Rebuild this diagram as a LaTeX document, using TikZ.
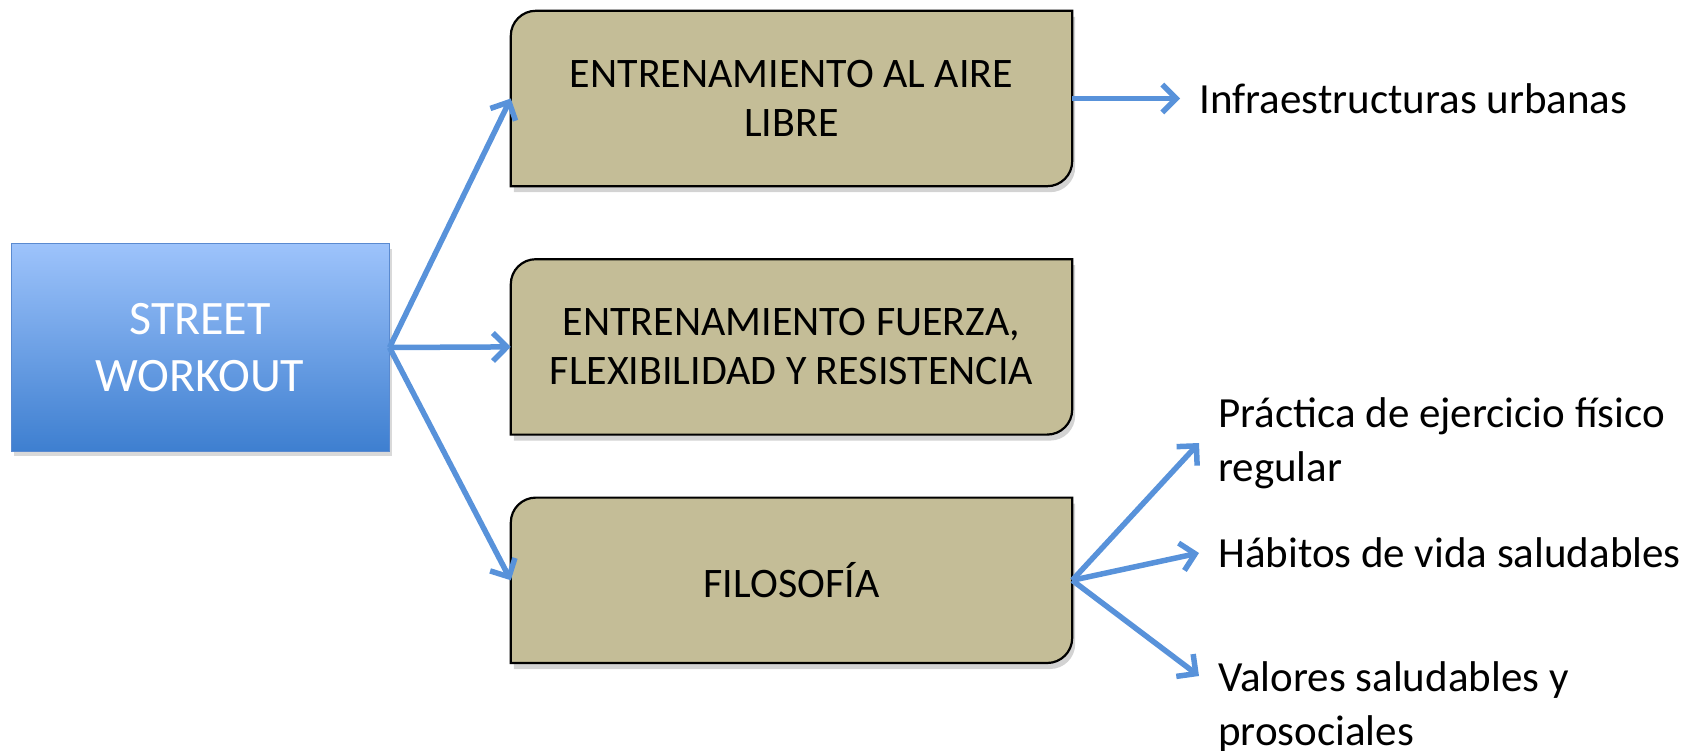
\documentclass[tikz,border=0pt]{standalone}
\usepackage{fontspec}
\setmainfont{Carlito}
\usetikzlibrary{positioning, arrows.meta, shadows, backgrounds}
\definecolor{boxtan}{HTML}{C4BD97}
\definecolor{swtop}{HTML}{9DC3FB}
\definecolor{swbottom}{HTML}{3E7FD0}
\definecolor{swborder}{HTML}{5A8AD0}
\definecolor{linkblue}{HTML}{5892DA}
\tikzset{
link/.style={-{Straight Barb[length=14pt, width=28pt]}, line width=5.5pt, draw=linkblue}, % the blue arrows
swbox/.style={minimum width=378pt, minimum height=207pt, align=center, text=white, top color=swtop, bottom color=swbottom, draw=swborder, line width=1pt, drop shadow={opacity=0.3, shadow xshift=3pt, shadow yshift=-5pt}, font=\fontsize{48}{57}\selectfont}, % the blue start box
topic/.style={minimum width=561pt, minimum height=175pt, align=center, font=\fontsize{42}{49}\selectfont}, % text of the tan boxes
topicline/.style={draw=black, line width=2.2pt, fill=boxtan, drop shadow={opacity=0.35, shadow xshift=3pt, shadow yshift=-6pt}}, % outline of the tan boxes
leaf/.style={align=left, inner xsep=19pt, inner ysep=0pt, font=\fontsize{43}{54}\selectfont}, % texts on the right
}

\begin{document}
\begin{tikzpicture}[x=1pt, y=-1pt]
    \useasboundingbox (0,0) rectangle (1694,751);
    \node[swbox] (sw) at (200,347.5) {STREET\\WORKOUT};
    \node[topic] (b1) at (791.5,98.5) {ENTRENAMIENTO AL AIRE\\LIBRE};
    \node[topic, below=73pt of b1] (b2) {ENTRENAMIENTO FUERZA,\\FLEXIBILIDAD Y RESISTENCIA};
    \node[topic, minimum height=165pt, below=63pt of b2] (b3) {FILOSOFÍA};
    \node[leaf, right=108pt of b1] (infra) {Infraestructuras urbanas};
    \node[leaf, anchor=west] (prac) at (1199,443) {Práctica de ejercicio físico\\regular};
    \node[leaf, anchor=west] (hab) at (1199,553) {Hábitos de vida saludables};
    \node[leaf, anchor=west] (val) at (1199,707) {Valores saludables y\\prosociales};
    % tan boxes: round top left and bottom right corners
    \begin{scope}[on background layer]
        \foreach \b in {b1,b2,b3}
            \draw[topicline] ([yshift=-25pt]\b.north west) arc[start angle=180, end angle=90, radius=25pt]
                -- (\b.north east) -- ([yshift=25pt]\b.south east)
                arc[start angle=0, end angle=-90, radius=25pt] -- (\b.south west) -- cycle;
    \end{scope}
    \foreach \b in {b1,b2,b3}
        \draw[link] (sw.east) -- (\b.west);
    \draw[link] (b1.east) -- (infra.west);
    \draw[link] (b3.east) -- (prac.west);
    \draw[link] (b3.east) -- (hab.west);
    \draw[link] (b3.east) -- ([yshift=31pt]val.west);
\end{tikzpicture}
\end{document}
